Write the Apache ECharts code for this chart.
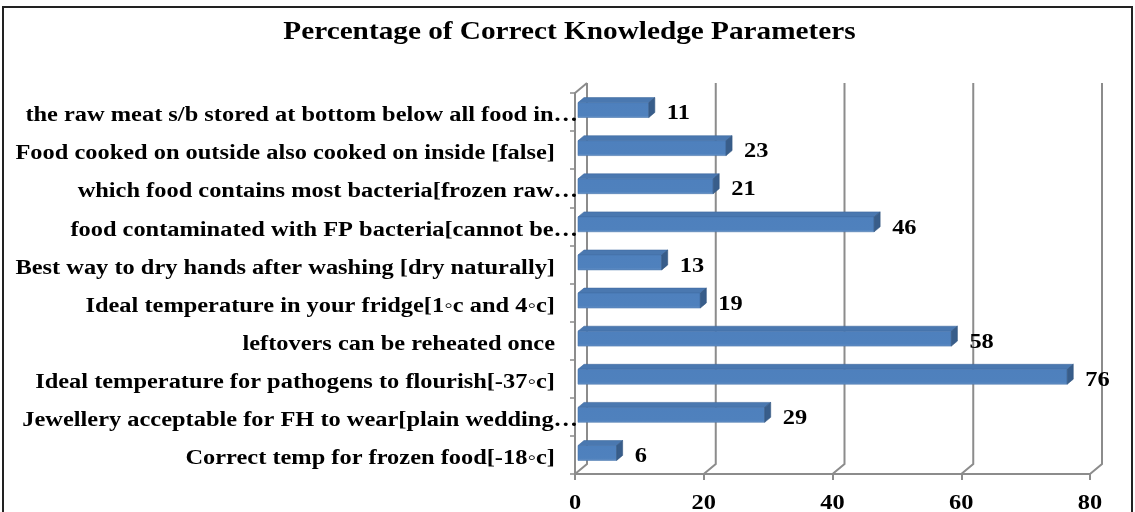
<!DOCTYPE html>
<html>
<head>
<meta charset="utf-8">
<script src="https://cdn.jsdelivr.net/npm/echarts@6/dist/echarts.min.js"></script>
<style>
  body { margin: 0; background: #fff; }
  #chart { width: 1135px; height: 512px; }
  #frame {
    position: absolute; left: 2px; top: 6px; width: 1131px; height: 560px;
    border: 2px solid #222; box-sizing: border-box; pointer-events: none;
  }
</style>
</head>
<body>
<div id="chart"></div>
<div id="frame"></div>
<script>
// categories top -> bottom, as shown
const categories = [
  'the raw meat s/b stored at bottom below all food in…',
  'Food cooked on outside also cooked on inside [false]',
  'which food contains most bacteria[frozen raw…',
  'food contaminated with FP bacteria[cannot be…',
  'Best way to dry hands after washing [dry naturally]',
  'Ideal temperature in your fridge[1◦c and 4◦c]',
  'leftovers can be reheated once',
  'Ideal temperature for pathogens to flourish[-37◦c]',
  'Jewellery acceptable for FH to wear[plain wedding…',
  'Correct temp for frozen food[-18◦c]'
]
const values = [11, 23, 21, 46, 13, 19, 58, 76, 29, 6]
const ticks = [0, 20, 40, 60, 80]
const titleText = 'Percentage of Correct Knowledge Parameters'

const serif = "'Liberation Serif', 'Times New Roman', serif"
const gray = '#8c8c8c'
// the original text is a bit stretched sideways
const STRETCH = 1.22
// depth of the 3d walls (px)
const DX = 12, DY = -10

const chart = echarts.init(document.getElementById('chart'))

const txt = (x, y, text, size, align, stretch) => ({
  type: 'text',
  x: x, y: y,
  scaleX: stretch,
  style: {
    text: text, fill: '#000',
    font: 'bold ' + size + 'px ' + serif,
    align: align, verticalAlign: 'middle'
  }
})

const option = {
  animation: false,
  graphic: [
    txt(chart.getWidth() / 2 + 2, 33, titleText, 25, 'center', 1.17)
  ],
  grid: { left: 575, right: 45, top: 93, bottom: 38 },
  xAxis: {
    type: 'value',
    min: 0, max: 80, interval: 20,
    axisLine: { show: true, lineStyle: { color: gray, width: 2 } },
    axisTick: { show: true, length: 6, lineStyle: { color: gray, width: 2 } },
    splitLine: { show: false },
    axisLabel: { show: false }
  },
  yAxis: {
    type: 'category',
    inverse: true,
    data: categories,
    axisLine: { show: true, lineStyle: { color: gray, width: 2 } },
    axisTick: { show: true, length: 5, lineStyle: { color: gray, width: 1.5 } },
    axisLabel: { show: false }
  },
  series: [
    {
      // back wall grid lines + floor diagonals + value tick labels
      type: 'custom',
      z: 1,
      silent: true,
      data: ticks.map(t => [t, 0]),
      renderItem: (params, api) => {
        const cs = params.coordSys
        const t = api.value(0)
        const x = api.coord([t, 0])[0]
        const bottom = cs.y + cs.height
        const top = cs.y
        const children = [{
          type: 'polyline',
          shape: { points: [[x, bottom], [x + DX, bottom + DY], [x + DX, top + DY]] },
          style: { stroke: gray, lineWidth: 2, fill: null }
        }, txt(x, bottom + 30, String(t), 20, 'center', STRETCH)]
        if (t === 0) {
          children.push({
            type: 'line',
            shape: { x1: x, y1: top, x2: x + DX, y2: top + DY },
            style: { stroke: gray, lineWidth: 2 }
          })
        }
        return { type: 'group', children }
      }
    },
    {
      // category labels
      type: 'custom',
      z: 2,
      silent: true,
      data: categories.map((c, i) => [0, i]),
      renderItem: (params, api) => {
        const i = api.value(1)
        const p = api.coord([0, i])
        const label = categories[i]
        const cut = label.endsWith('…')
        return txt(p[0] + (cut ? 3 : -20), p[1] + 4, label, 20, 'right', STRETCH)
      }
    },
    {
      type: 'custom',
      z: 3,
      data: values.map((v, i) => [v, i]),
      renderItem: (params, api) => {
        const v = api.value(0)
        const i = api.value(1)
        const p0 = api.coord([0, i])
        const p1 = api.coord([v, i])
        const band = api.size([0, 1])[1]
        const h = band * 0.39
        const fx = 3, fy = -2, bx = 9, by = -7
        const x0 = p0[0] + fx, x1 = p1[0] + fx
        const yt = p0[1] + fy - h / 2, yb = p0[1] + fy + h / 2
        const dx = bx - fx, dy = by - fy
        return {
          type: 'group',
          children: [
            {
              type: 'polygon',
              shape: { points: [[x0, yt], [x1, yt], [x1 + dx, yt + dy], [x0 + dx, yt + dy]] },
              style: { fill: '#4a78b0', stroke: '#3f6a9f', lineWidth: 0.6 }
            },
            {
              type: 'rect',
              shape: { x: x0, y: yt, width: x1 - x0, height: yb - yt },
              style: {
                fill: new echarts.graphic.LinearGradient(0, 0, 0, 1, [
                  { offset: 0, color: '#4e80bd' },
                  { offset: 0.85, color: '#4f81bd' },
                  { offset: 1, color: '#6a95c9' }
                ]),
                stroke: '#4774ab', lineWidth: 0.6
              }
            },
            {
              type: 'polygon',
              shape: { points: [[x1, yt], [x1 + dx, yt + dy], [x1 + dx, yb + dy], [x1, yb]] },
              style: { fill: '#385d8a', stroke: '#33557f', lineWidth: 0.6 }
            },
            txt(p1[0] + 21, p0[1] + 2, String(v), 20, 'left', STRETCH)
          ]
        }
      }
    }
  ]
}

chart.setOption(option)
</script>
</body>
</html>
